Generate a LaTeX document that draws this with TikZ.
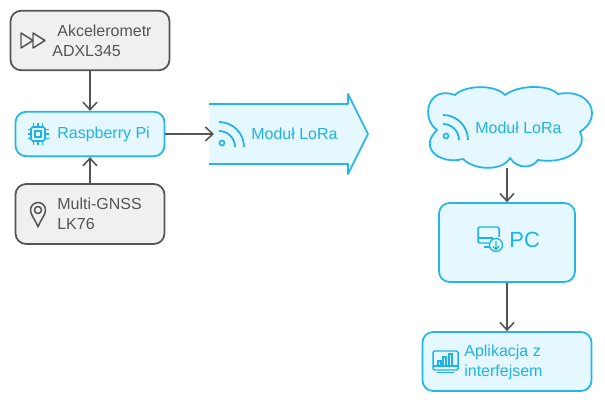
\documentclass[tikz,border=0pt]{standalone}
\usepackage{fontspec}
\setmainfont{Liberation Sans}
\usetikzlibrary{arrows.meta}
\definecolor{lrcyan}{HTML}{25B5E8}
\definecolor{lrtext}{HTML}{1FB2E6}
\definecolor{lrfill}{HTML}{E6F8FF}
\definecolor{lrgray}{HTML}{F0F0F0}
\definecolor{lrdark}{HTML}{555555}
\tikzset{
  grayBox/.style={draw=lrdark, fill=lrgray, line width=1pt, rounded corners=6pt},
  cyanBox/.style={draw=lrcyan, fill=lrfill, line width=1pt, rounded corners=6pt},
  grayLabel/.style={text=lrdark, font=\fontsize{9.1}{11.4}\selectfont, align=left, inner sep=0pt},
  cyanLabel/.style={text=lrtext, font=\fontsize{9.1}{11.4}\selectfont, align=left, inner sep=0pt},
  flowArrow/.style={-{Straight Barb[length=1.5mm,width=2.8mm]}, line width=0.9pt, draw=lrdark},
  iconLine/.style={draw=lrtext, line width=0.75pt},
  wifiIcon/.pic={
    \draw[iconLine, line width=1pt] (0,-25) arc (-90:0:25);
    \draw[iconLine, line width=1pt] (0,-16) arc (-90:0:16);
    \draw[iconLine, line width=0.9pt] (3,-4) circle (2.5);
  }
}
\begin{document}
\begin{tikzpicture}[x=0.02cm,y=-0.02cm]
  \useasboundingbox (0,0) rectangle (605,402);
  % left column
  \node[grayBox, minimum width=3.18cm, minimum height=1.19cm] (accel) at (90,40.5) {};
  \node[cyanBox, minimum width=2.98cm, minimum height=0.89cm] (raspi) at (90,134) {};
  \node[grayBox, minimum width=2.98cm, minimum height=1.2cm] (gnss) at (90,214) {};
  \node[grayLabel, anchor=west] (accelText) at (52,41) {\hspace*{0.1cm}Akcelerometr\\ADXL345};
  \node[cyanLabel, anchor=west] (raspiText) at (57,134) {Raspberry Pi};
  \node[grayLabel, anchor=west] (gnssText) at (57,214) {Multi-GNSS\\LK76};
  \draw[draw=lrdark, line width=0.85pt, line join=round] (21,33) -- (33,40.5) -- (21,48) -- cycle;
  \draw[draw=lrdark, line width=0.85pt, line join=round] (33,33) -- (45,40.5) -- (33,48) -- cycle;
  \draw[draw=lrdark, line width=0.85pt, line join=round] (38,227) .. controls (35,219) and (30.5,215) .. (30.5,210) arc (180:360:7.5) .. controls (45.5,215) and (41,219) .. (38,227) -- cycle;
  \draw[draw=lrdark, line width=0.85pt] (38,210) circle (3.5);
  % chip
  \draw[iconLine, rounded corners=1pt, line width=0.9pt] (31,127) rectangle (45,141);
  \draw[iconLine] (35,131) rectangle (41,137);
  \foreach \p in {-4.5,0,4.5} {
    \draw[iconLine] (38+\p,123.5) -- (38+\p,127);
    \draw[iconLine] (38+\p,141) -- (38+\p,144.5);
    \draw[iconLine] (27.5,134+\p) -- (31,134+\p);
    \draw[iconLine] (45,134+\p) -- (48.5,134+\p);
  }
  % big arrow
  \fill[lrfill] (209,104) -- (348,104) -- (348,94) -- (368,134) -- (348,174) -- (348,164) -- (209,164) -- cycle;
  \draw[draw=lrcyan, line width=1pt, line join=round] (209,104) -- (348,104) -- (348,94) -- (368,134) -- (348,174) -- (348,164) -- (209,164);
  \coordinate (arrowIn) at (214,134);
  \pic at (219,147) {wifiIcon};
  \node[cyanLabel, anchor=west] (loraText) at (251,134) {Moduł LoRa};
  % cloud
  \draw[draw=lrcyan, fill=lrfill, line width=1pt] (455,95) .. controls (465,85) and (495,84) .. (505,95)
    .. controls (518,85) and (548,84) .. (558,94)
    .. controls (578,90) and (592,100) .. (592,113)
    .. controls (592,122) and (586,128) .. (580,132)
    .. controls (588,146) and (570,165) .. (538,160)
    .. controls (532,169) and (517,169) .. (510,158)
    .. controls (503,171) and (475,171) .. (463,159)
    .. controls (440,165) and (418,148) .. (437,130)
    .. controls (420,118) and (428,85) .. (455,95) -- cycle;
  \node[minimum width=3.3cm, minimum height=1.62cm, inner sep=0pt] (cloud) at (509.5,127.5) {};
  \pic at (443,140) {wifiIcon};
  \node[cyanLabel, anchor=west] (cloudText) at (475,127.5) {Moduł LoRa};
  % right column
  \node[cyanBox, minimum width=2.72cm, minimum height=1.58cm] (pc) at (507,242.5) {};
  \node[cyanBox, minimum width=3.38cm, minimum height=1.18cm] (app) at (507,361.5) {};
  \node[cyanLabel, anchor=west, font=\fontsize{12.5}{14}\selectfont] (pcText) at (509,240) {PC};
  \node[cyanLabel, anchor=west] (appText) at (464,362) {Aplikacja z\\interfejsem};
  \draw[iconLine, rounded corners=0.8pt, line width=0.85pt] (489,243) -- (478,243) -- (478,227) -- (499,227) -- (499,237);
  \draw[iconLine] (478,238) -- (493,238);
  \draw[iconLine] (484,247) -- (490,247);
  \draw[iconLine] (496,245) circle (6.5);
  \draw[iconLine] (496,241) -- (496,249) (493,246.5) -- (496,249.5) -- (499,246.5);
  \draw[iconLine, rounded corners=0.8pt, line width=0.85pt] (433,351) rectangle (458,370);
  \draw[iconLine] (433,366) -- (458,366);
  \draw[iconLine, line width=0.9pt] (437,372.5) -- (454,372.5);
  \draw[iconLine] (438,366) rectangle (441,361);
  \draw[iconLine] (443,366) rectangle (446,357);
  \draw[iconLine] (449,366) rectangle (452,354);
  % connectors
  \draw[flowArrow] (accel.south) -- (raspi.north);
  \draw[flowArrow] (gnss.north) -- (raspi.south);
  \draw[flowArrow] (raspi.east) -- (arrowIn);
  \draw[flowArrow] (cloud.south -| pc.north) -- (pc.north);
  \draw[flowArrow] (pc.south) -- (app.north);
\end{tikzpicture}
\end{document}
